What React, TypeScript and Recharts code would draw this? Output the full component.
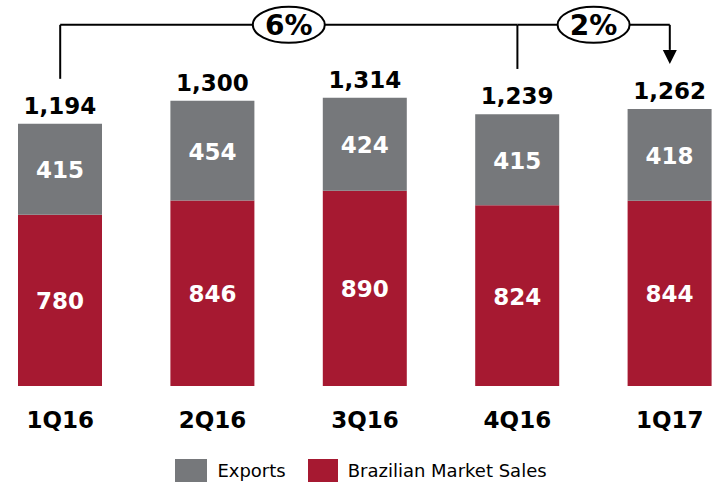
import React from "react";
import {
  BarChart,
  Bar,
  XAxis,
  YAxis,
  Legend,
  LabelList,
  ReferenceLine,
} from "recharts";

// 四半期別販売量（輸出＋国内）

const quarters = ["1Q16", "2Q16", "3Q16", "4Q16", "1Q17"];
const exportsSales = [415, 454, 424, 415, 418];
const domesticSales = [780, 846, 890, 824, 844];
const totals = [1194, 1300, 1314, 1239, 1262];

const growthLabels = [
  { from: "1Q16", to: "4Q16", label: "6%" },
  { from: "4Q16", to: "1Q17", label: "2%" },
];

const GRAY = "#76787b";
const RED = "#a61931";
const FONT = "'DejaVu Sans', Verdana, sans-serif";

// bracket levels in value units
const BRACKET = 1646;
const LEFT_FOOT = 1400;
const MID_FOOT = 1445;
const ARROW_TIP = 1468;

const data = quarters.map((q, i) => ({
  q,
  exports: exportsSales[i],
  domestic: domesticSales[i],
  total: totals[i],
}));

const fmt = (v: number) => v.toLocaleString("en-US");

function InnerLabel(props: any) {
  const { x, y, width, height, value } = props;
  return (
    <text
      x={x + width / 2}
      y={y + height / 2 + 9}
      textAnchor="middle"
      fill="#fff"
      fontFamily={FONT}
      fontWeight="bold"
      fontSize={23}
    >
      {value}
    </text>
  );
}

function TotalLabel(props: any) {
  const { x, y, width, value } = props;
  return (
    <text
      x={x + width / 2}
      y={y - 10}
      textAnchor="middle"
      fill="#000"
      fontFamily={FONT}
      fontWeight="bold"
      fontSize={23}
    >
      {fmt(value)}
    </text>
  );
}

function QuarterTick(props: any) {
  const { x, y, payload } = props;
  return (
    <text
      x={x}
      y={y + 42}
      textAnchor="middle"
      fill="#000"
      fontFamily={FONT}
      fontWeight="bold"
      fontSize={23}
    >
      {payload.value}
    </text>
  );
}

function growthBubble(text: string) {
  return (props: any) => {
    const vb = props.viewBox || {};
    const cx = vb.x + vb.width / 2;
    const cy = vb.y + vb.height / 2;
    return (
      <g>
        <ellipse cx={cx} cy={cy} rx={36} ry={18} fill="#fff" stroke="#000" strokeWidth={2} />
        <text
          x={cx}
          y={cy + 10}
          textAnchor="middle"
          fill="#000"
          fontFamily={FONT}
          fontWeight="bold"
          fontSize={28}
        >
          {text}
        </text>
      </g>
    );
  };
}

function ArrowShape(props: any) {
  const { x1, y1, x2, y2 } = props;
  const base = y2 - 14;
  return (
    <g>
      <line x1={x1} y1={y1} x2={x2} y2={base} stroke="#000" strokeWidth={2} />
      <polygon points={`${x2 - 7},${base} ${x2 + 7},${base} ${x2},${y2}`} fill="#000" />
    </g>
  );
}

function LegendContent() {
  const item = (color: string, label: string, w: number, gap: number) => (
    <span style={{ display: "inline-flex", alignItems: "center", marginRight: gap }}>
      <span style={{ display: "inline-block", width: w, height: 23, background: color, marginRight: 10 }} />
      <span style={{ fontFamily: FONT, fontSize: 18, color: "#000" }}>{label}</span>
    </span>
  );
  return (
    <div style={{ height: 36, display: "flex", alignItems: "flex-end", justifyContent: "center", paddingRight: 8 }}>
      {item(GRAY, "Exports", 32, 22)}
      {item(RED, "Brazilian Market Sales", 30, 0)}
    </div>
  );
}

export default function App() {
  return (
    <div style={{ position: "absolute", left: 0, top: 0, background: "#fff" }}>
      <BarChart
        width={724}
        height={486}
        data={data}
        margin={{ top: 13, right: -22, left: -16, bottom: 4 }}
      >
        <XAxis
          dataKey="q"
          axisLine={false}
          tickLine={false}
          tickSize={0}
          tickMargin={0}
          height={60}
          interval={0}
          tick={<QuarterTick />}
        />
        <YAxis hide domain={[0, 1700]} allowDataOverflow />
        <Legend verticalAlign="bottom" content={<LegendContent />} />

        <Bar dataKey="domestic" name="Brazilian Market Sales" stackId="a" fill={RED} barSize={84} isAnimationActive={false}>
          <LabelList dataKey="domestic" content={<InnerLabel />} />
        </Bar>
        <Bar dataKey="exports" name="Exports" stackId="a" fill={GRAY} barSize={84} isAnimationActive={false}>
          <LabelList dataKey="exports" content={<InnerLabel />} />
          <LabelList dataKey="total" content={<TotalLabel />} />
        </Bar>

        {/* growth bracket */}
        <ReferenceLine
          segment={[{ x: "1Q16", y: LEFT_FOOT }, { x: "1Q16", y: BRACKET }]}
          stroke="#000"
          strokeWidth={2}
          ifOverflow="visible"
        />
        <ReferenceLine
          segment={[{ x: "4Q16", y: MID_FOOT }, { x: "4Q16", y: BRACKET }]}
          stroke="#000"
          strokeWidth={2}
          ifOverflow="visible"
        />
        <ReferenceLine
          segment={[{ x: "1Q17", y: BRACKET }, { x: "1Q17", y: ARROW_TIP }]}
          shape={ArrowShape}
          ifOverflow="visible"
        />
        {growthLabels.map((g) => (
          <ReferenceLine
            key={g.label}
            segment={[{ x: g.from, y: BRACKET }, { x: g.to, y: BRACKET }]}
            stroke="#000"
            strokeWidth={2}
            ifOverflow="visible"
            label={growthBubble(g.label)}
          />
        ))}
      </BarChart>
    </div>
  );
}
